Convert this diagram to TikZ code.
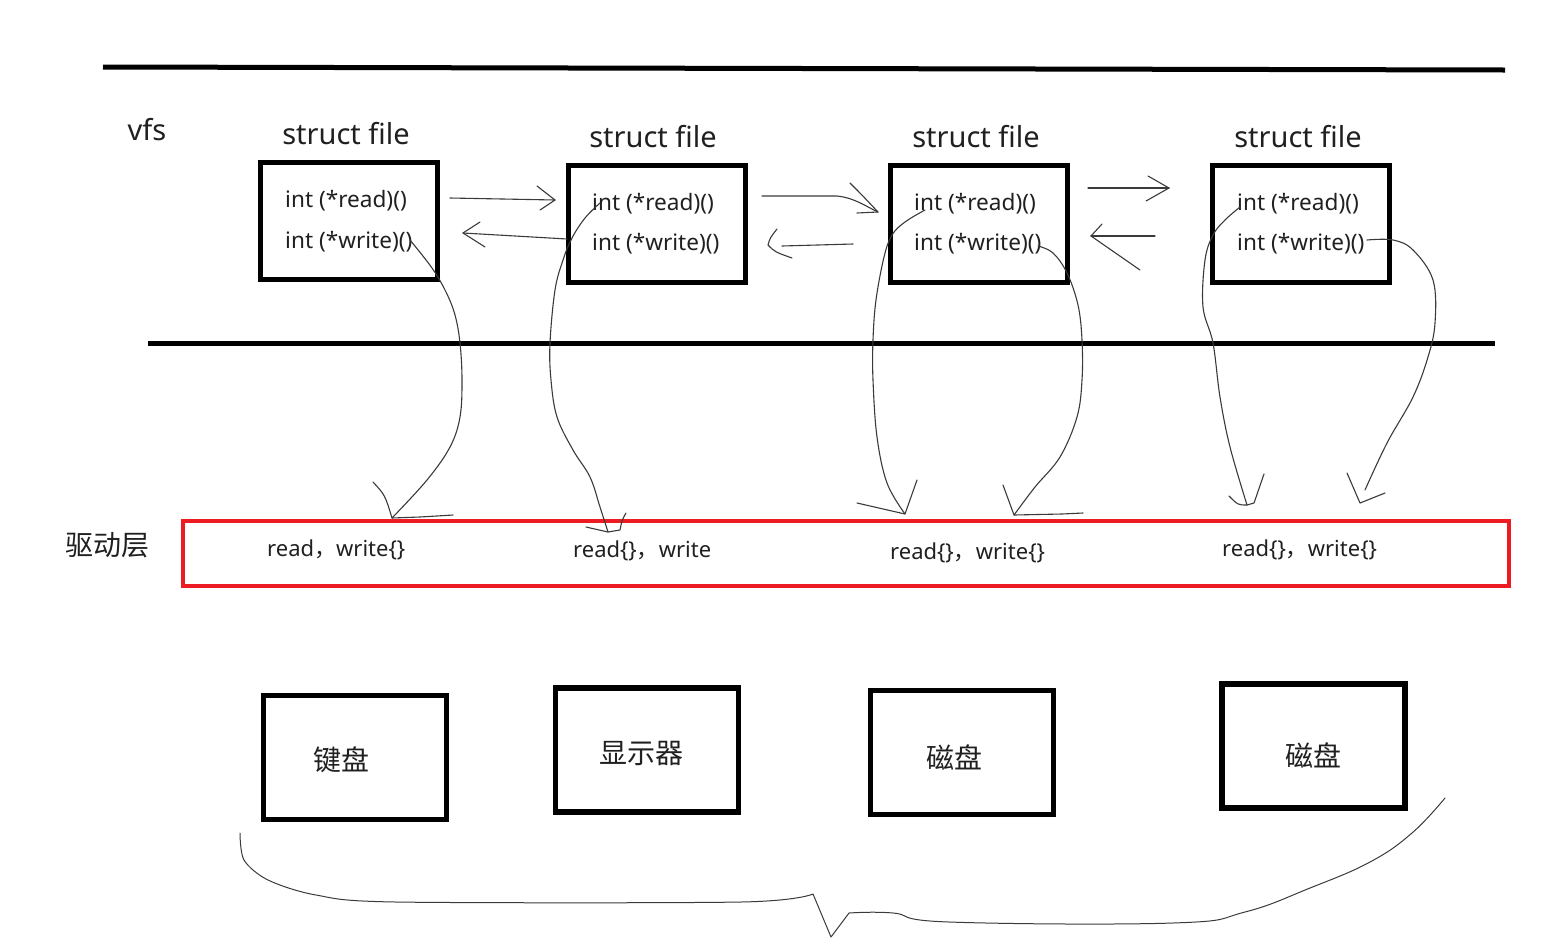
\documentclass[tikz,border=0pt]{standalone}
\usepackage{fontspec}
\setmainfont{Noto Sans}
\newfontfamily\cjk{Noto Sans CJK SC}
\definecolor{txt}{HTML}{202020}
\definecolor{pen}{HTML}{3A3A3A}
\definecolor{drvred}{HTML}{ED1C24}
\begin{document}
\begin{tikzpicture}[x=1pt,y=-1pt,
  sbox/.style={draw=black,line width=5pt,minimum width=177pt,minimum height=117pt,inner sep=0pt},
  dbox/.style={draw=black,line width=5.5pt,minimum width=183pt,minimum height=124pt,inner sep=0pt},
  ctext/.style={anchor=base west,inner sep=0pt,font=\fontsize{22.6}{26}\selectfont,text=txt},
  sftitle/.style={anchor=base,inner sep=0pt,font=\fontsize{29}{33}\selectfont,text=txt},
  drvtxt/.style={anchor=base west,inner sep=0pt,font=\fontsize{22}{26}\selectfont,text=txt},
  cjklab/.style={inner sep=0pt,font=\cjk\fontsize{28}{32}\selectfont,text=txt},
  hand/.style={draw=pen,line width=1.1pt,line cap=round,line join=round},
  sepline/.style={draw=black,line width=5pt}
]
\useasboundingbox (0,0) rectangle (1558,938);

% layer rules
\coordinate (ra) at (103,67); \coordinate (rb) at (1505,70);
\draw[sepline] (ra) -- (rb);
\coordinate (rc) at (148,343); \coordinate (rd) at (1495,343);
\draw[sepline] (rc) -- (rd);

% labels
\node[sftitle] (vfs) at (147,140) {vfs};
\node[cjklab] (qdc) at (107,545) {驱动层};

% struct file boxes
\node[sbox] (f1) at (349,221) {};
\node[sbox] (f2) at (657,224) {};
\node[sbox] (f3) at (979,223.5) {};
\node[sbox] (f4) at (1301,224) {};
\node[sftitle] (h1) at (346,144) {struct file};
\node[sftitle] (h2) at (653,147) {struct file};
\node[sftitle] (h3) at (976,147) {struct file};
\node[sftitle] (h4) at (1298,147) {struct file};

\node[ctext] (r1) at (285,207) {int (*read)()};
\node[ctext] (w1) at (285,248) {int (*write)()};
\node[ctext] (r2) at (592,210) {int (*read)()};
\node[ctext] (w2) at (592,250) {int (*write)()};
\node[ctext] (r3) at (914,210) {int (*read)()};
\node[ctext] (w3) at (914,250) {int (*write)()};
\node[ctext] (r4) at (1237,210) {int (*read)()};
\node[ctext] (w4) at (1237,250) {int (*write)()};

% driver layer
\node[draw=drvred,line width=4pt,minimum width=1326pt,minimum height=65pt,inner sep=0pt] (drv) at (846,553.5) {};
\node[drvtxt] (d1) at (267,556) {read{\cjk ，}write\{\}};
\node[drvtxt] (d2) at (573,557) {read\{\}{\cjk ，}write};
\node[drvtxt] (d3) at (890,559) {read\{\}{\cjk ，}write\{\}};
\node[drvtxt] (d4) at (1222,556) {read\{\}{\cjk ，}write\{\}};

% devices
\node[dbox] (kb) at (355,757.5) {};
\node[dbox] (mon) at (647,750) {};
\node[dbox] (dk1) at (962,752.5) {};
\node[dbox] (dk2) at (1313.5,746) {};
\node[cjklab] at (341,760) {键盘};
\node[cjklab] at (641,753) {显示器};
\node[cjklab] at (954,757) {磁盘};
\node[cjklab] at (1313,755) {磁盘};

% horizontal arrows between struct files
\coordinate (a1s) at (450,198); \coordinate (a1e) at (555,200);
\draw[hand] (a1s) -- (a1e);
\draw[hand] (537,186) -- (a1e) -- (540,210);
\coordinate (b1s) at (567,239); \coordinate (b1e) at (463,233);
\draw[hand] (b1s) -- (b1e);
\draw[hand] (480,222) -- (b1e) -- (485,247);

\coordinate (a2s) at (762,196); \coordinate (a2e) at (878,212);
\draw[hand] (a2s) -- (837,196) .. controls (855,198) and (865,206) .. (a2e);
\draw[hand] (850,183) .. controls (862,195) .. (a2e) -- (857,213);
\coordinate (b2s) at (853,244); \coordinate (b2e) at (782,246);
\draw[hand] (b2s) -- (b2e);
\draw[hand] (777,229) .. controls (770,238) .. (768,245) .. controls (775,252) .. (792,258);

\coordinate (a3s) at (1088,188); \coordinate (a3e) at (1169,188);
\draw[hand] (a3s) -- (a3e);
\draw[hand] (1148,176) -- (a3e) -- (1146,201);
\coordinate (b3s) at (1155,236); \coordinate (b3e) at (1091,236);
\draw[hand] (b3s) -- (b3e);
\draw[hand] (1102,224) -- (b3e) -- (1140,270);

% calls down to the driver layer
\coordinate (s1) at (410,240); \coordinate (e1) at (392,518);
\draw[hand] plot[smooth,tension=0.6] coordinates {(s1) (432,268) (446,292) (455,315) (460,343) (462,380) (460,417) (450,447) (427,480) (e1)};
\draw[hand] (373,482) .. controls (385,495) .. (e1) -- (420,517) -- (453,515);

\coordinate (s2) at (600,203); \coordinate (e2) at (608,532);
\draw[hand] plot[smooth,tension=0.6] coordinates {(s2) (585,218) (572,238) (563,260) (555,290) (550,343) (551,380) (557,417) (573,450) (590,477) (600,507) (e2)};
\draw[hand] (586,527) -- (e2) -- (620,530) .. controls (622,520) .. (626,513);

\coordinate (s3) at (925,210); \coordinate (e3) at (905,514);
\draw[hand] plot[smooth,tension=0.6] coordinates {(s3) (905,222) (892,235) (884,257) (876,300) (873,340) (873,380) (877,437) (887,483) (e3)};
\draw[hand] (857,503) -- (e3) -- (917,480);

\coordinate (s4) at (1038,246); \coordinate (e4) at (1014,515);
\draw[hand] plot[smooth,tension=0.6] coordinates {(s4) (1053,253) (1067,273) (1078,305) (1082,340) (1082,380) (1077,417) (1060,457) (1035,487) (e4)};
\draw[hand] (1003,485) -- (e4) -- (1062,514) -- (1083,513);

\coordinate (s5) at (1240,207); \coordinate (e5) at (1247,505);
\draw[hand] plot[smooth,tension=0.6] coordinates {(s5) (1225,220) (1213,235) (1205,260) (1203,307) (1213,343) (1220,397) (1230,447) (e5)};
\draw[hand] (1229,496) .. controls (1238,505) .. (e5) -- (1254,503) -- (1264,474);

\coordinate (s6) at (1367,240); \coordinate (e6) at (1360,503);
\draw[hand] plot[smooth,tension=0.6] coordinates {(s6) (1393,240) (1413,250) (1433,280) (1435,323) (1428,357) (1413,397) (1387,443) (1365,490)};
\draw[hand] (1347,473) -- (e6) -- (1385,493);

% brace under the devices
\draw[hand,line width=1pt] plot[smooth,tension=0.5] coordinates {(240,833) (244,860) (268,880) (316,895) (396,902) (741,902) (813,894)}
  -- (831,937) -- (849,913)
  -- plot[smooth,tension=0.7] coordinates {(849,913) (893,913) (949,922) (1173,923) (1245,912) (1310,888) (1370,862) (1412,833) (1445,798)};
\end{tikzpicture}
\end{document}
